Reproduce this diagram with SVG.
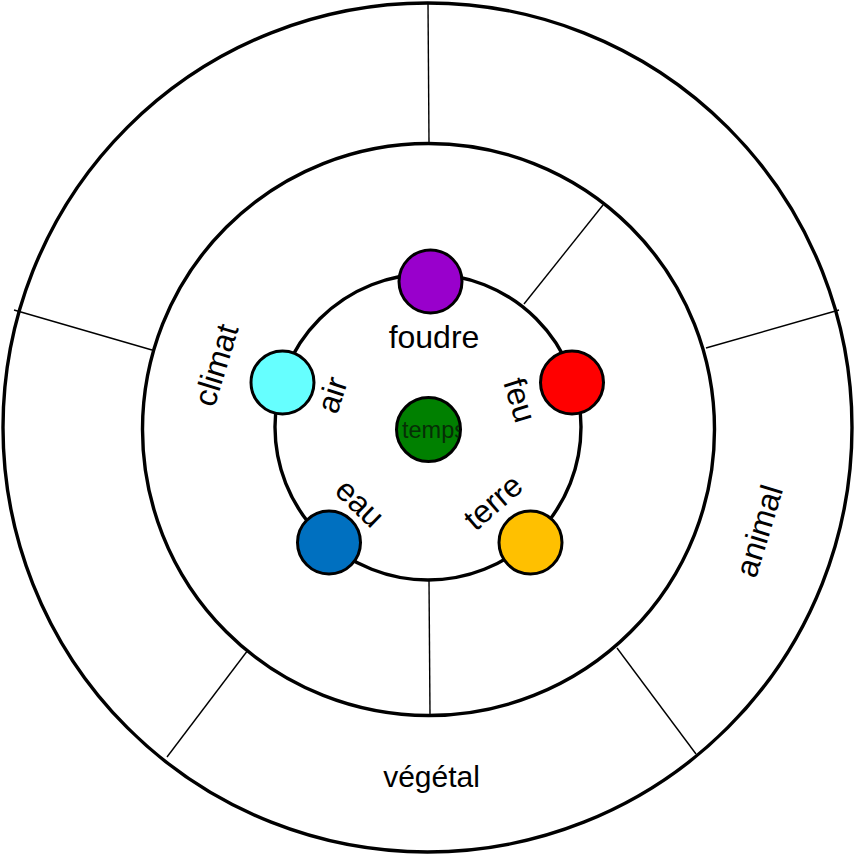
<svg xmlns="http://www.w3.org/2000/svg" width="854" height="855" viewBox="0 0 854 855">
<style>
.ring{fill:none;stroke:#000;stroke-width:3.4}
.dot{stroke:#000;stroke-width:3}
.div{stroke:#000;stroke-width:1.4;fill:none}
.lbl{font-family:"Liberation Sans",Arial,sans-serif;font-size:32px;fill:#000;text-anchor:middle}
</style>
<defs>
<clipPath id="tclip"><circle cx="428.5" cy="429.5" r="31"/></clipPath>
</defs>
<rect width="854" height="855" fill="#fff"/>
<g id="rings">
<circle class="ring" cx="427.5" cy="427.5" r="424.5"/>
<circle class="ring" cx="428.5" cy="429.5" r="286"/>
<circle class="ring" cx="428" cy="427" r="153"/>
</g>
<g id="connectors">
<line class="div" x1="428" y1="3" x2="429" y2="143"/>
<line class="div" x1="524" y1="304" x2="603" y2="205"/>
<line class="div" x1="706" y1="348" x2="839" y2="310"/>
<line class="div" x1="429" y1="580" x2="430" y2="715"/>
<line class="div" x1="617" y1="648" x2="696" y2="754"/>
<line class="div" x1="248" y1="650" x2="167" y2="757"/>
<line class="div" x1="14" y1="310" x2="152" y2="350"/>
</g>
<g id="climat"><text class="lbl" transform="translate(216,365) rotate(-73)" x="0" y="11">climat</text></g>
<g id="animal"><text class="lbl" transform="translate(759,531) rotate(-73)" x="0" y="11">animal</text></g>
<g id="vegetal"><text class="lbl" style="font-size:30px" x="431.5" y="787">végétal</text></g>
<g id="foudre">
<circle class="dot" cx="430.5" cy="281.5" r="31.5" fill="#9900CC"/>
<text class="lbl" x="434" y="348">foudre</text>
</g>
<g id="feu">
<circle class="dot" cx="572" cy="382.5" r="31.5" fill="#FF0000"/>
<text class="lbl" transform="translate(520,400) rotate(73)" x="0" y="11">feu</text>
</g>
<g id="terre">
<circle class="dot" cx="530.5" cy="542.5" r="31.5" fill="#FFC000"/>
<text class="lbl" transform="translate(493,502) rotate(-41)" x="0" y="11">terre</text>
</g>
<g id="eau">
<circle class="dot" cx="329" cy="542.5" r="31.5" fill="#0070C0"/>
<text class="lbl" transform="translate(360,503) rotate(44)" x="0" y="11">eau</text>
</g>
<g id="air">
<circle class="dot" cx="282.5" cy="382.5" r="31.5" fill="#66FFFF"/>
<text class="lbl" transform="translate(332,395) rotate(-72)" x="0" y="11">air</text>
</g>
<g id="temps">
<circle class="dot" cx="428.5" cy="429.5" r="32" fill="#008000"/>
<text clip-path="url(#tclip)" x="402" y="438" style="font-family:'Liberation Sans',Arial,sans-serif;font-size:23.5px;fill:#062e06">temps</text>
</g>
</svg>
